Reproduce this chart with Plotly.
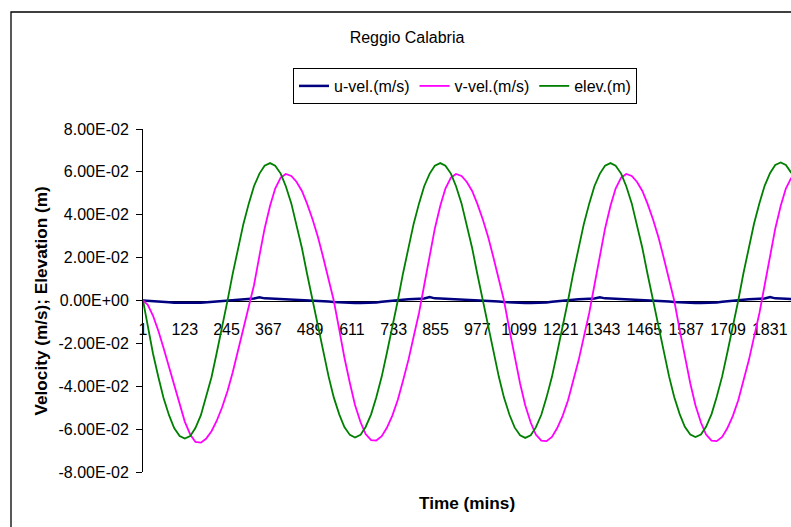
import plotly.graph_objects as go

# Sample times (minutes) and model output at Reggio Calabria
TIME = [1, 15, 30, 46, 61, 77, 92, 108, 123, 139, 154, 170, 185, 201, 216, 232,
        248, 263, 279, 294, 310, 325, 341, 356, 372, 387, 403, 418, 434, 449, 465, 480,
        496, 512, 527, 543, 558, 574, 589, 605, 620, 636, 651, 667, 682, 698, 713, 729,
        745, 760, 776, 791, 807, 822, 838, 853, 869, 884, 900, 915, 931, 946, 962, 977,
        993, 1009, 1024, 1040, 1055, 1071, 1086, 1102, 1117, 1133, 1148, 1164, 1179, 1195, 1210, 1226,
        1242, 1257, 1273, 1288, 1304, 1319, 1335, 1350, 1366, 1381, 1397, 1412, 1428, 1443, 1459, 1474,
        1490, 1506, 1521, 1537, 1552, 1568, 1583, 1599, 1614, 1630, 1645, 1661, 1676, 1692, 1707, 1723,
        1739, 1754, 1770, 1785, 1801, 1816, 1832, 1847, 1863, 1878, 1894]

U_VEL = [0.0, -0.0001, -0.0002, -0.0004, -0.0006, -0.0008, -0.0010, -0.0011,
         -0.0011, -0.0011, -0.0011, -0.0010, -0.0008, -0.0006, -0.0003, -0.0001,
         0.0002, 0.0004, 0.0006, 0.0007, 0.0008, 0.0009, 0.0015, 0.0010,
         0.0009, 0.0008, 0.0007, 0.0006, 0.0005, 0.0004, 0.0003, 0.0002,
         0.0001, -0.0001, -0.0003, -0.0005, -0.0007, -0.0009, -0.0010, -0.0011,
         -0.0012, -0.0012, -0.0012, -0.0011, -0.0009, -0.0006, -0.0003, -0.0001,
         0.0002, 0.0004, 0.0006, 0.0007, 0.0008, 0.0009, 0.0016, 0.0010,
         0.0009, 0.0008, 0.0007, 0.0006, 0.0005, 0.0004, 0.0003, 0.0002,
         0.0001, -0.0001, -0.0003, -0.0005, -0.0007, -0.0009, -0.0010, -0.0011,
         -0.0012, -0.0012, -0.0012, -0.0011, -0.0009, -0.0006, -0.0003, -0.0001,
         0.0002, 0.0004, 0.0006, 0.0007, 0.0008, 0.0009, 0.0015, 0.0010,
         0.0009, 0.0008, 0.0007, 0.0006, 0.0005, 0.0004, 0.0003, 0.0002,
         0.0001, -0.0001, -0.0003, -0.0005, -0.0007, -0.0009, -0.0010, -0.0011,
         -0.0012, -0.0012, -0.0012, -0.0011, -0.0009, -0.0006, -0.0003, -0.0001,
         0.0002, 0.0004, 0.0006, 0.0007, 0.0008, 0.0009, 0.0016, 0.0010,
         0.0009, 0.0008, 0.0007]

V_VEL = [0.0, -0.0020, -0.0070, -0.0142, -0.0222, -0.0312, -0.0400, -0.0488,
         -0.0565, -0.0625, -0.0660, -0.0663, -0.0645, -0.0610, -0.0562, -0.0498,
         -0.0421, -0.0335, -0.0233, -0.0133, -0.0027, 0.0071, 0.0209, 0.0335,
         0.0442, 0.0522, 0.0573, 0.0590, 0.0581, 0.0554, 0.0511, 0.0452,
         0.0379, 0.0295, 0.0202, 0.0102, 0.0000, -0.0136, -0.0266, -0.0385,
         -0.0487, -0.0567, -0.0623, -0.0651, -0.0653, -0.0633, -0.0594, -0.0537,
         -0.0463, -0.0376, -0.0277, -0.0170, -0.0057, 0.0071, 0.0209, 0.0335,
         0.0442, 0.0522, 0.0573, 0.0590, 0.0581, 0.0554, 0.0511, 0.0452,
         0.0379, 0.0295, 0.0202, 0.0102, 0.0000, -0.0137, -0.0267, -0.0387,
         -0.0489, -0.0569, -0.0625, -0.0654, -0.0656, -0.0636, -0.0596, -0.0539,
         -0.0465, -0.0377, -0.0278, -0.0171, -0.0057, 0.0071, 0.0209, 0.0335,
         0.0442, 0.0522, 0.0573, 0.0590, 0.0581, 0.0554, 0.0511, 0.0452,
         0.0379, 0.0295, 0.0202, 0.0102, 0.0000, -0.0137, -0.0267, -0.0387,
         -0.0489, -0.0569, -0.0625, -0.0654, -0.0656, -0.0636, -0.0596, -0.0539,
         -0.0465, -0.0377, -0.0278, -0.0171, -0.0057, 0.0071, 0.0209, 0.0335,
         0.0442, 0.0522, 0.0573]

ELEV = [0.0, -0.0126, -0.0246, -0.0358, -0.0455, -0.0535, -0.0595, -0.0632,
        -0.0644, -0.0632, -0.0595, -0.0535, -0.0455, -0.0358, -0.0246, -0.0126,
        0.0002, 0.0125, 0.0245, 0.0356, 0.0453, 0.0533, 0.0592, 0.0629,
        0.0641, 0.0629, 0.0592, 0.0533, 0.0453, 0.0356, 0.0245, 0.0125,
        0.0000, -0.0125, -0.0245, -0.0355, -0.0452, -0.0531, -0.0590, -0.0627,
        -0.0639, -0.0627, -0.0590, -0.0531, -0.0452, -0.0355, -0.0245, -0.0125,
        0.0000, 0.0125, 0.0245, 0.0356, 0.0453, 0.0533, 0.0592, 0.0629,
        0.0641, 0.0629, 0.0592, 0.0533, 0.0453, 0.0356, 0.0245, 0.0125,
        0.0000, -0.0125, -0.0245, -0.0356, -0.0453, -0.0533, -0.0592, -0.0629,
        -0.0641, -0.0629, -0.0592, -0.0533, -0.0453, -0.0356, -0.0245, -0.0125,
        0.0000, 0.0125, 0.0245, 0.0356, 0.0453, 0.0533, 0.0592, 0.0629,
        0.0641, 0.0629, 0.0592, 0.0533, 0.0453, 0.0356, 0.0245, 0.0125,
        0.0000, -0.0124, -0.0244, -0.0354, -0.0450, -0.0530, -0.0589, -0.0625,
        -0.0637, -0.0625, -0.0589, -0.0530, -0.0450, -0.0354, -0.0244, -0.0124,
        0.0000, 0.0126, 0.0246, 0.0358, 0.0455, 0.0535, 0.0595, 0.0632,
        0.0644, 0.0632, 0.0595]

X_TICKS = [1, 123, 245, 367, 489, 611, 733, 855, 977, 1099, 1221, 1343, 1465, 1587, 1709, 1831]
Y_TICKS = [0.08, 0.06, 0.04, 0.02, 0.0, -0.02, -0.04, -0.06, -0.08]
Y_LABELS = ["8.00E-02", "6.00E-02", "4.00E-02", "2.00E-02", "0.00E+00",
            "-2.00E-02", "-4.00E-02", "-6.00E-02", "-8.00E-02"]

FONT = "Arial, Liberation Sans, sans-serif"

fig = go.Figure()
fig.add_trace(go.Scatter(x=TIME, y=U_VEL, mode="lines", name="u-vel.(m/s)",
                         line=dict(color="#000080", width=2.5)))
fig.add_trace(go.Scatter(x=TIME, y=V_VEL, mode="lines", name="v-vel.(m/s)",
                         line=dict(color="#FF00FF", width=1.8)))
fig.add_trace(go.Scatter(x=TIME, y=ELEV, mode="lines", name="elev.(m)",
                         line=dict(color="#008000", width=1.8)))

fig.update_layout(
    width=791, height=527,
    margin=dict(l=143, r=0, t=129, b=55, pad=0),
    paper_bgcolor="white", plot_bgcolor="white",
    font=dict(family=FONT, size=16, color="black"),
    title=dict(text="Reggio Calabria", x=407 / 791, y=1 - 37 / 527,
               xref="container", yref="container",
               xanchor="center", yanchor="middle",
               font=dict(family=FONT, size=16, color="black")),
    showlegend=True,
    legend=dict(orientation="h", x=(293 - 143) / 648, y=(472 - 68) / 343,
                xanchor="left", yanchor="top",
                bordercolor="black", borderwidth=1, bgcolor="white",
                font=dict(family=FONT, size=16, color="black")),
    xaxis=dict(range=[1, 1893], tickmode="array", tickvals=X_TICKS,
               ticktext=[str(v) for v in X_TICKS],
               showgrid=False, zeroline=False,
               showline=True, linecolor="black", linewidth=1,
               anchor="free", position=0.5, ticks="",
               ticklabelstandoff=14, layer="below traces",
               tickfont=dict(family=FONT, size=16, color="black")),
    yaxis=dict(range=[-0.08, 0.08], tickmode="array", tickvals=Y_TICKS,
               ticktext=Y_LABELS, showgrid=False, zeroline=False,
               showline=True, linecolor="black", linewidth=1,
               ticks="outside", ticklen=6, tickcolor="black",
               ticklabelstandoff=4, layer="below traces",
               tickfont=dict(family=FONT, size=16, color="black")),
    annotations=[
        dict(text="<b>Velocity (m/s); Elevation (m)</b>", textangle=-90,
             x=(40 - 143) / 648, y=0.5, xref="paper", yref="paper",
             xanchor="center", yanchor="middle", showarrow=False,
             font=dict(family=FONT, size=17.2, color="black")),
        dict(text="<b>Time (mins)</b>",
             x=0.5, y=(472 - 503) / 343, xref="paper", yref="paper",
             xanchor="center", yanchor="middle", showarrow=False,
             font=dict(family=FONT, size=17.2, color="black")),
    ],
    shapes=[dict(type="rect", xref="paper", yref="paper",
                 x0=(11 - 143) / 648, x1=1.05,
                 y0=-0.3, y1=(472 - 12) / 343,
                 line=dict(color="black", width=1.3), layer="below")],
)

fig.write_html("out.html")
